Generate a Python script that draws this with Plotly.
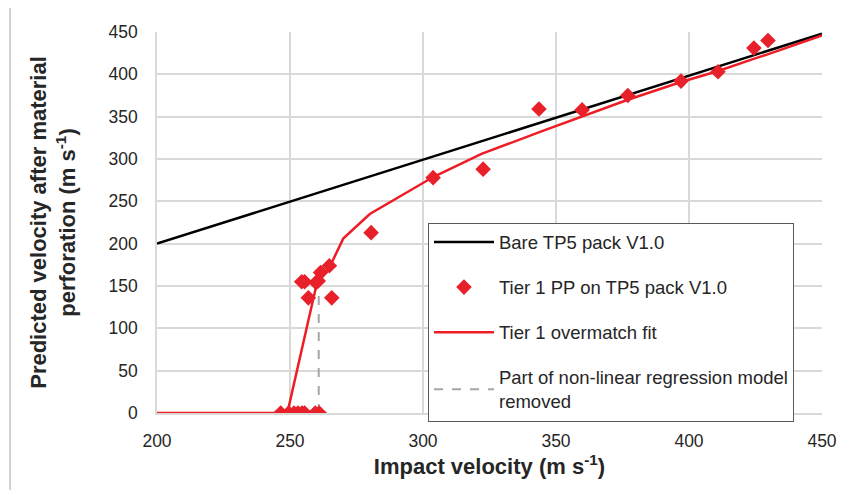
import plotly.graph_objects as go

# Bare pack line
bare_x = [200, 450]
bare_y = [200, 448]

# Measured points (Tier 1 PP on TP5 pack V1.0)
pts_x = [246.5, 249.5, 251.5, 253, 254.5, 255.5, 259.5, 261,
         254.4, 255.5, 259.8, 260.6, 261.5, 264.8, 256.9, 265.7,
         280.5, 303.8, 322.6, 343.6, 359.8, 377, 397, 410.9, 424.4, 429.7]
pts_y = [0, 0, 0, 0, 0, 0, 0, 0,
         155, 155, 154, 156, 166, 174, 136, 136,
         213, 278, 288, 359, 358, 375, 392, 403, 431, 440]

# Overmatch fit
fit_x = [200, 249, 260, 265, 270, 280, 304, 322, 344, 360, 377, 397, 411, 424, 429, 450]
fit_y = [0, 0, 152, 173, 206, 235, 279, 306, 332, 350, 370, 391, 404, 418, 423, 446]

# Removed part of model
rem_x = [260.8, 260.8]
rem_y = [0, 152]

FONT = "Liberation Sans, Arial, sans-serif"

fig = go.Figure()
fig.add_trace(go.Scatter(x=bare_x, y=bare_y, mode="lines", name="Bare TP5 pack V1.0",
                         line=dict(color="#000000", width=2.5), legendgroup="a", legendrank=1))
fig.add_trace(go.Scatter(x=rem_x, y=rem_y, mode="lines",
                         name="Part of non-linear regression model<br>removed",
                         line=dict(color="#a6a6a6", width=2, dash="dash"), legendgroup="d",
                         legendrank=4))
fig.add_trace(go.Scatter(x=fit_x, y=fit_y, mode="lines", name="Tier 1 overmatch fit",
                         line=dict(color="#ee1c25", width=2.5), legendgroup="c", legendrank=3))
fig.add_trace(go.Scatter(x=pts_x, y=pts_y, mode="markers", name="Tier 1 PP on TP5 pack V1.0",
                         marker=dict(symbol="diamond", size=12, color="#e8202a"),
                         legendgroup="b", legendrank=2))

fig.update_layout(
    width=857, height=500,
    margin=dict(l=157, r=35, t=32, b=87),
    paper_bgcolor="white", plot_bgcolor="white",
    font=dict(family=FONT, size=17, color="#262626"),
    showlegend=True,
    legend=dict(x=0.4075, y=0.50, xanchor="left", yanchor="top",
                bgcolor="white", bordercolor="#595959", borderwidth=1,
                font=dict(family=FONT, size=18.5, color="#262626"),
                tracegroupgap=18, itemwidth=60),
    xaxis=dict(range=[200, 450], dtick=50, showgrid=True, gridcolor="#d9d9d9", gridwidth=1.5,
               zeroline=False, showline=True, linecolor="#d9d9d9", linewidth=1.5,
               ticks="", ticklabelstandoff=11,
               tickfont=dict(family=FONT, size=17.5, color="#262626"),
               title=dict(text="Impact velocity (m s<sup>-1</sup>)", standoff=6,
                          font=dict(family=FONT, size=22, color="#262626", weight="bold"))),
    yaxis=dict(range=[0, 450], dtick=50, showgrid=True, gridcolor="#d9d9d9", gridwidth=1.5,
               zeroline=False, showline=True, linecolor="#d9d9d9", linewidth=1.5,
               ticks="", ticklabelstandoff=14,
               tickfont=dict(family=FONT, size=17.5, color="#262626"),
               title=dict(text="Predicted velocity after material<br>perforation (m s<sup>-1</sup>)",
                          standoff=27,
                          font=dict(family=FONT, size=22, color="#262626", weight="bold"))),
    shapes=[dict(type="line", xref="paper", yref="paper", x0=-0.221, x1=-0.221,
                 y0=1.063, y1=-0.202, line=dict(color="#a6a6a6", width=1))],
)

fig.write_html("out.html")
